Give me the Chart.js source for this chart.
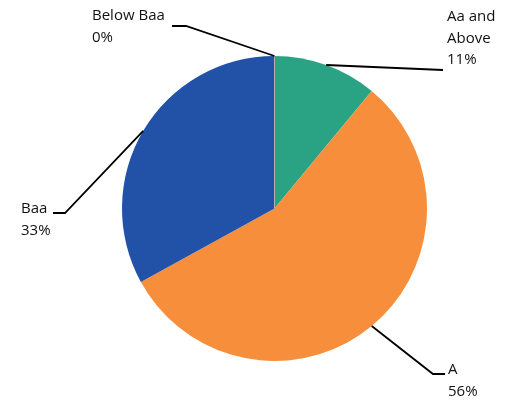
<!DOCTYPE html>
<html>
<head>
<meta charset="utf-8">
<script src="https://cdn.jsdelivr.net/npm/chart.js@4/dist/chart.umd.min.js"></script>
<style>
  html, body { margin: 0; padding: 0; background: #fff; }
  #wrap { width: 509px; height: 400px; }
</style>
</head>
<body>
<div id="wrap"><canvas id="ratingChart" width="509" height="400"></canvas></div>
<script>
var categories = ['Aa and Above', 'A', 'Baa', 'Below Baa'];
var shares = [11, 56, 33, 0];
var labelLines = [['Aa and', 'Above', '11%'], ['A', '56%'], ['Baa', '33%'], ['Below Baa', '0%']];
var sliceColors = ['#2aa384', '#f68e3c', '#2251a8', '#9a9a9a'];

// leader line layout: elbow and end points plus text placement
var leaderLayout = [
    { elbow: [443, 70], end: [443, 70], textX: 447, textY: 21 },
    { elbow: [433, 374], end: [445, 374], textX: 448, textY: 374 },
    { elbow: [65, 213], end: [53, 213], textX: 21, textY: 213 },
    { elbow: [186, 26], end: [172, 26], textX: 92, textY: 20 }
];

var leaderPlugin = {
    id: 'leaders',
    afterDatasetsDraw: function (chart) {
        var c = chart.ctx;
        var arcs = chart.getDatasetMeta(0).data;
        c.save();
        arcs.forEach(function (arc, i) {
            var mid = (arc.startAngle + arc.endAngle) / 2;
            var ax = arc.x + Math.cos(mid) * arc.outerRadius;
            var ay = arc.y + Math.sin(mid) * arc.outerRadius;
            if (shares[i] === 0) {
                c.strokeStyle = '#b0b0b0';
                c.lineWidth = 1;
                c.beginPath();
                c.moveTo(arc.x, arc.y);
                c.lineTo(ax, ay);
                c.stroke();
            }
            var l = leaderLayout[i];
            c.strokeStyle = '#000';
            c.lineWidth = 1.8;
            c.beginPath();
            c.moveTo(ax, ay);
            c.lineTo(l.elbow[0], l.elbow[1]);
            c.lineTo(l.end[0], l.end[1]);
            c.stroke();
            c.fillStyle = '#111';
            c.font = '15px "Open Sans"';
            c.textAlign = 'left';
            c.textBaseline = 'alphabetic';
            labelLines[i].forEach(function (t, k) {
                c.fillText(t, l.textX, l.textY + k * 21.5);
            });
        });
        c.restore();
    }
};

var ctx = document.getElementById('ratingChart').getContext('2d');
var ratingChart = new Chart(ctx, {
    type: 'pie',
    data: {
        labels: categories,
        datasets: [{
            data: shares,
            backgroundColor: sliceColors,
            borderWidth: 0
        }]
    },
    options: {
        responsive: false,
        animation: false,
        maintainAspectRatio: false,
        layout: {
            padding: { left: 122, right: 82, top: 56, bottom: 39 }
        },
        plugins: {
            legend: { display: false },
            tooltip: { enabled: false }
        }
    },
    plugins: [leaderPlugin]
});
</script>
</body>
</html>
